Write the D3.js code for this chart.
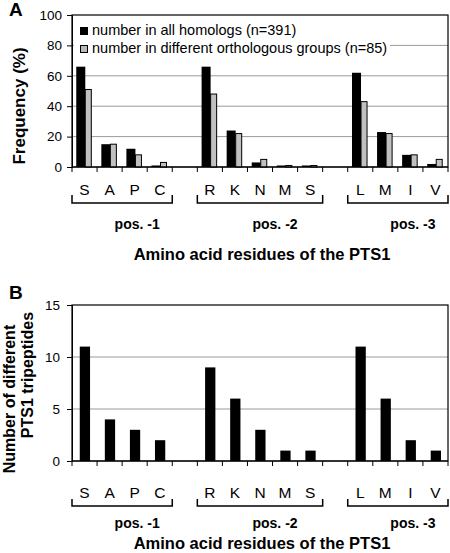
<!DOCTYPE html>
<html><head><meta charset="utf-8">
<script src="https://cdn.jsdelivr.net/npm/d3@7/dist/d3.min.js"></script>
<style>body{margin:0;background:#fff}svg{display:block;font-family:"Liberation Sans",Arial,sans-serif}</style>
</head><body><svg id="c" width="450" height="553"></svg>
<script>
const residues = ["S","A","P","C",null,"R","K","N","M","S",null,"L","M","I","V"];
const allHomologs = [66,15,12,1,null,66,24,3,1,1,null,62,23,8,2];
const orthoGroups = [51,15,8,3,null,48,22,5,1,1,null,43,22,8,5];
const tripeptides = [11,4,3,2,null,9,6,3,1,1,null,11,6,2,1];
const positionGroups = [{label:"pos. -1",first:0,last:3},{label:"pos. -2",first:5,last:9},{label:"pos. -3",first:11,last:14}];
const ticksA = [0,20,40,60,80,100];
const ticksB = [0,5,10,15];
const legendLabels = ["number in all homologs (n=391)","number in different orthologous groups (n=85)"];
const xTitle = "Amino acid residues of the PTS1";

const svg = d3.select("#c");
const x = d3.scaleBand().domain(d3.range(residues.length)).range([72,448]).padding(0);
const bw = x.bandwidth();

function frame(g, y, ticks, top, base){
  g.selectAll(".grid").data(ticks.slice(1,-1)).join("line")
    .attr("x1",72).attr("x2",448).attr("y1",d=>y(d)).attr("y2",d=>y(d))
    .attr("stroke","#9a9a9a").attr("stroke-width",1);
  g.append("rect").attr("x",72).attr("y",top).attr("width",376).attr("height",base-top)
    .attr("fill","none").attr("stroke","#000").attr("stroke-width",1.2);
}
function yAxis(g, y, ticks, pad){
  const ax = g.append("g").attr("transform","translate(72,0)")
    .call(d3.axisLeft(y).tickValues(ticks).tickSize(5).tickPadding(pad));
  ax.select(".domain").attr("stroke","#000");
  ax.selectAll(".tick line").attr("stroke","#000");
  ax.selectAll("text").attr("font-size",13.5).attr("font-family","Liberation Sans, Arial").attr("fill","#000");
}
function xAxisParts(g, base, letterY, bracketTop, bracketY, posY, titleY){
  const bounds = d3.range(residues.length+1).map(i=> i<residues.length ? x(i) : x(i-1)+bw);
  g.selectAll(".xt").data(bounds).join("line")
    .attr("x1",d=>d).attr("x2",d=>d).attr("y1",base).attr("y2",base+5)
    .attr("stroke","#000").attr("stroke-width",1);
  g.append("line").attr("x1",72).attr("x2",448).attr("y1",base).attr("y2",base).attr("stroke","#000").attr("stroke-width",1.2);
  g.selectAll(".lt").data(residues.map((r,i)=>({r,i})).filter(d=>d.r)).join("text")
    .attr("x",d=>x(d.i)+bw/2).attr("y",letterY).attr("text-anchor","middle")
    .attr("font-size",15.5).text(d=>d.r);
  positionGroups.forEach(p=>{
    const x0 = x(p.first), x1 = x(p.last)+bw;
    g.append("path").attr("d",`M${x0},${bracketTop}V${bracketY}H${x1}V${bracketTop}`)
      .attr("fill","none").attr("stroke","#000").attr("stroke-width",1.5);
    g.append("text").attr("x",(x0+x1)/2+bw*0.6).attr("y",posY).attr("text-anchor","middle")
      .attr("font-size",14).attr("font-weight","bold").text(p.label);
  });
  g.append("text").attr("x",262).attr("y",titleY).attr("text-anchor","middle")
    .attr("font-size",16.5).attr("font-weight","bold").text(xTitle);
}

// Panel A
const gA = svg.append("g");
const yA = d3.scaleLinear().domain([0,100]).range([167,15]);
frame(gA, yA, ticksA, 15, 167);
const idx = d3.range(residues.length).filter(i=>residues[i]);
gA.selectAll(".bk").data(idx).join("rect")
  .attr("x",i=>x(i)+bw*0.17).attr("width",bw*0.36)
  .attr("y",i=>yA(allHomologs[i])).attr("height",i=>yA(0)-yA(allHomologs[i]))
  .attr("fill","#000");
gA.selectAll(".gr").data(idx).join("rect")
  .attr("x",i=>x(i)+bw*0.53).attr("width",bw*0.24)
  .attr("y",i=>yA(orthoGroups[i])).attr("height",i=>yA(0)-yA(orthoGroups[i]))
  .attr("fill","#c0c0c0").attr("stroke","#000").attr("stroke-width",1);
// legend
gA.append("rect").attr("x",74).attr("y",17).attr("width",316).attr("height",40).attr("fill","#fff");
[["#000"],["#b8b8b8"]].forEach((c,k)=>{
  gA.append("rect").attr("x",80.5).attr("y",27.5+k*18).attr("width",7).attr("height",7)
    .attr("fill",c[0]).attr("stroke","#000").attr("stroke-width",1);
  gA.append("text").attr("x",92).attr("y",35+k*18).attr("font-size",14.5).text(legendLabels[k]);
});
yAxis(gA, yA, ticksA, 5);
xAxisParts(gA, 167, 195, 195, 203, 229, 260);
gA.append("text").attr("transform","translate(25,106) rotate(-90)").attr("text-anchor","middle")
  .attr("font-size",17).attr("font-weight","bold").text("Frequency (%)");
gA.append("text").attr("x",9).attr("y",16).attr("font-size",19).attr("font-weight","bold").text("A");

// Panel B
const gB = svg.append("g");
const yB = d3.scaleLinear().domain([0,15]).range([461,305]);
frame(gB, yB, ticksB, 305, 461);
gB.selectAll(".bb").data(idx).join("rect")
  .attr("x",i=>x(i)+bw*0.31).attr("width",bw*0.41)
  .attr("y",i=>yB(tripeptides[i])).attr("height",i=>yB(0)-yB(tripeptides[i]))
  .attr("fill","#000");
yAxis(gB, yB, ticksB, 7);
xAxisParts(gB, 461, 498, 499, 506, 528, 549);
gB.append("text").attr("transform","translate(15,399) rotate(-90)").attr("text-anchor","middle")
  .attr("font-size",16).attr("font-weight","bold").text("Number of different");
gB.append("text").attr("transform","translate(33,375) rotate(-90)").attr("text-anchor","middle")
  .attr("font-size",16).attr("font-weight","bold").text("PTS1 tripeptides");
gB.append("text").attr("x",9).attr("y",299).attr("font-size",19).attr("font-weight","bold").text("B");
</script></body></html>
